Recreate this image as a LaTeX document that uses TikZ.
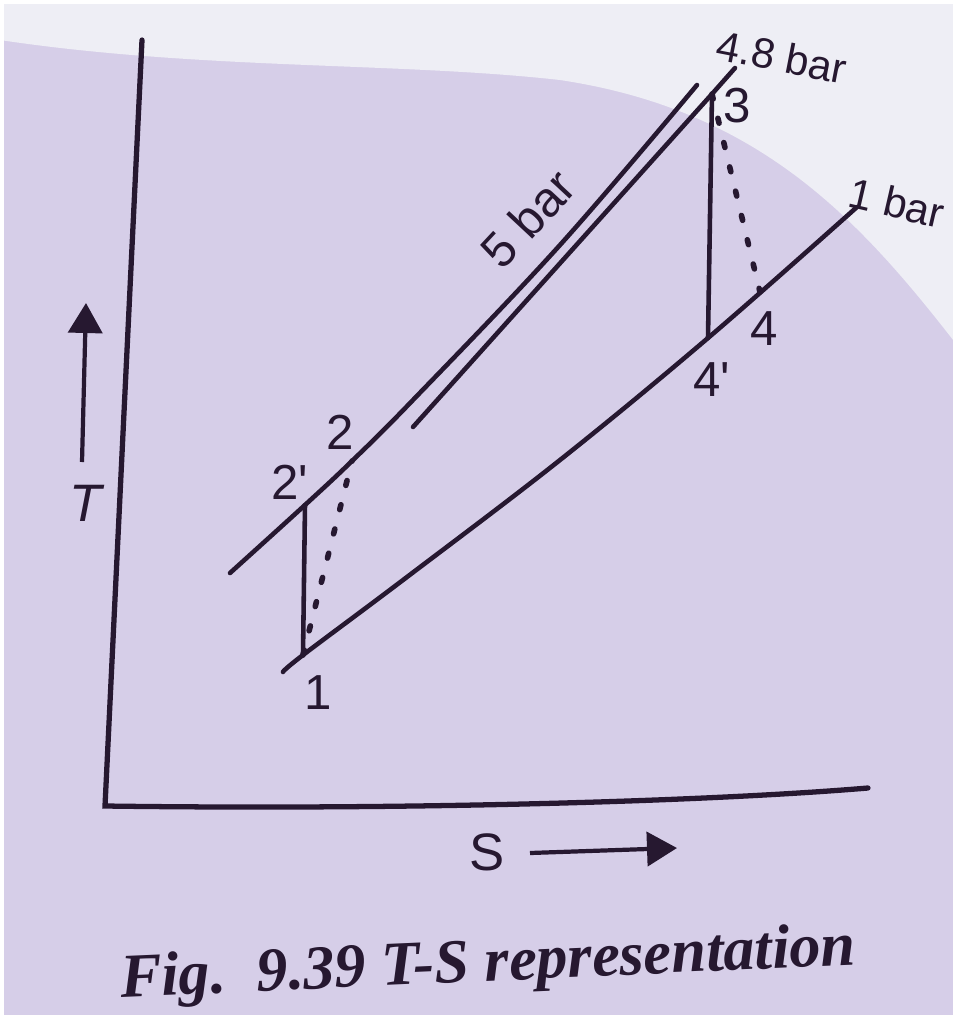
\documentclass[tikz,border=0pt]{standalone}
\usepackage{fontspec}
\setmainfont{Liberation Serif}
\newfontfamily\lab{Liberation Sans}
\usetikzlibrary{arrows.meta}
\definecolor{ink}{RGB}{38,24,48}
\definecolor{paper}{RGB}{214,206,232}
\definecolor{paperlight}{RGB}{238,238,245}
\begin{document}
\begin{tikzpicture}[x=0.02cm,y=-0.02cm,
  curve/.style={line width=2.6pt, line cap=round, draw=ink},
  axis/.style={line width=3pt, line cap=round, draw=ink},
  dotline/.style={line width=3.2pt, line cap=round, draw=ink, dash pattern=on 0.1cm off 0.4cm},
  lbl/.style={font=\lab\fontsize{28}{30}\selectfont, text=ink, inner sep=0pt},
  barlbl/.style={font=\lab\fontsize{24}{26}\selectfont, text=ink, inner sep=0pt},
  arr/.style={line width=2.4pt, draw=ink, -{Triangle[length=0.6cm,width=0.68cm]}}
]
\useasboundingbox (0,0) rectangle (957,1019);
% paper
\fill[paper] (0,0) rectangle (957,1019);
\fill[paperlight] (0,0) -- (957,0) -- (957,345) .. controls (860,220) and (760,110) .. (560,80) .. controls (400,62) and (200,70) .. (0,40) -- cycle;
\draw[white, line width=0.16cm] (0,0) rectangle (957,1019);

% axes
\coordinate (Ytop) at (142,40);
\coordinate (O) at (105,806);
\coordinate (Xend) at (868,788);
\draw[axis] (Ytop) -- (O) .. controls (400,810) and (700,802) .. (Xend);

% key points
\coordinate (p1) at (303,655);
\coordinate (p2p) at (305,505);
\coordinate (p2) at (352,461);
\coordinate (p3) at (712,94);
\coordinate (p4p) at (708,338);
\coordinate (p4) at (760,292);

% 5 bar line
\draw[curve] plot[smooth, tension=0.6] coordinates {(230,573) (p2p) (p2) (413,400) (560,245) (697,85)};
% 4.8 bar line
\coordinate (s0) at (413,427);
\coordinate (s1) at (735,68);
\draw[curve] (s0) -- (p3) -- (s1);
% 1 bar line
\draw[curve] plot[smooth, tension=0.6] coordinates {(283,672) (p1) (407,577) (560,460) (p4p) (857,207)};

% processes
\draw[curve] (p1) -- (p2p);
\draw[curve] (p3) -- (p4p);
\draw[dotline] (p1) -- (p2);
\draw[dotline] (p3) -- (p4);

% point labels
\node[lbl] (l1) at (318,693) {1};
\node[lbl] (l2p) at (290,482) {2'};
\node[lbl] (l2) at (340,432) {2};
\node[lbl] (l3) at (737,106) {3};
\node[lbl] (l4) at (764,329) {4};
\node[lbl] (l4p) at (712,380) {4'};

% pressure labels
\node[lbl, rotate=47] (b5) at (528,218) {5 bar};
\node[barlbl, rotate=-11] (b48) at (782,57) {4.8 bar};
\node[barlbl, rotate=-13] (b1) at (897,203) {1 bar};

% axis labels
\node[lbl, font=\lab\itshape\fontsize{30}{32}\selectfont] (T) at (86,503) {T};
\coordinate (Ta) at (82,462);
\coordinate (Tb) at (86,303);
\draw[arr] (Ta) -- (Tb);
\node[lbl, font=\lab\fontsize{30}{32}\selectfont] (S) at (487,852) {S};
\coordinate (Sa) at (530,853);
\coordinate (Sb) at (677,848);
\draw[arr] (Sa) -- (Sb);

% caption
\node[text=ink, inner sep=0pt, rotate=2.5, font=\bfseries\itshape\fontsize{35.5}{37}\selectfont] (cap) at (488,966) {Fig.\ \ 9.39 T-S representation};
\end{tikzpicture}
\end{document}
